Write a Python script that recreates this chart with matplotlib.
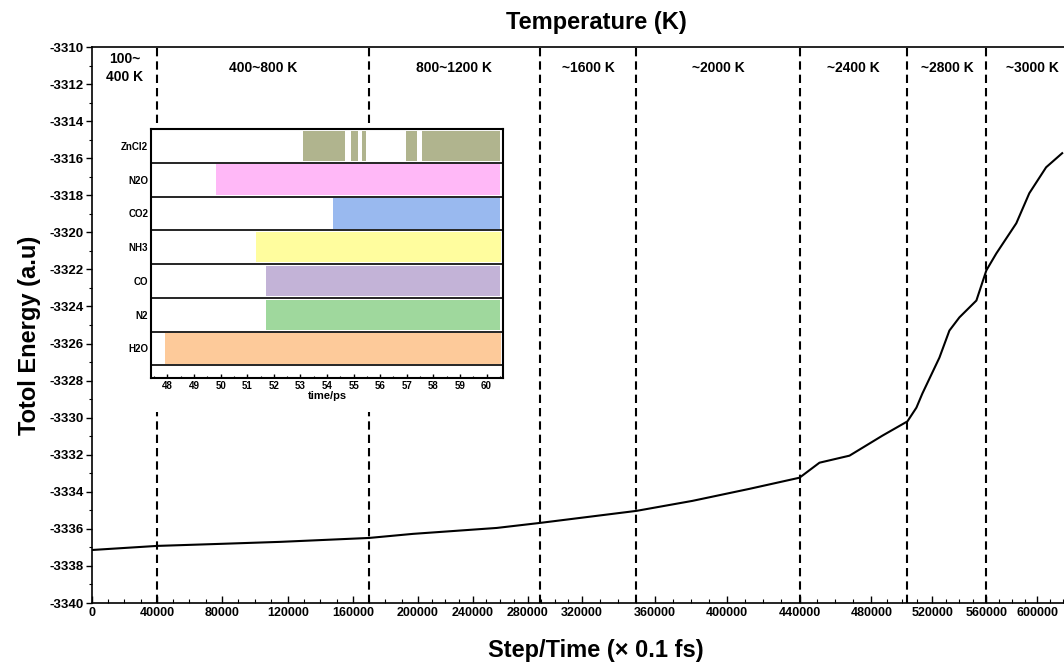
import numpy as np
import matplotlib
matplotlib.use("Agg")
import matplotlib.pyplot as plt
from matplotlib.patches import Rectangle
from matplotlib.ticker import FixedLocator, MultipleLocator

plt.rcParams['font.family'] = ['Liberation Sans', 'DejaVu Sans']
plt.rcParams['font.weight'] = 'bold'
plt.rcParams['axes.unicode_minus'] = False

# total energy along the trajectory (step, a.u.)
steps = [0, 40000, 78800, 115700, 170000, 197000, 257500, 289000, 350000,
         381000, 412600, 440000, 451100, 467800, 487200, 503600, 509500,
         513400, 525200, 532600, 540000, 552600, 560000, 567800, 583500,
         593700, 606900, 619500]
energy = [-3337.14, -3336.92, -3336.81, -3336.70, -3336.49, -3336.27,
          -3335.95, -3335.68, -3335.03, -3334.49, -3333.84, -3333.24,
          -3332.43, -3332.05, -3330.97, -3330.20, -3329.46, -3328.70,
          -3326.76, -3325.30, -3324.59, -3323.68, -3322.05, -3321.14,
          -3319.51, -3317.89, -3316.49, -3315.73]

# temperature stages
stage_bounds = [0, 40000, 170000, 289000, 350000, 440000, 503600, 560000, 632000]
stage_labels = ["100~\n400 K", "400~800 K", "800~1200 K", "~1600 K",
                "~2000 K", "~2400 K", "~2800 K", "~3000 K"]

# the original x axis is not evenly spaced: tick value -> relative position
tick_steps = list(range(0, 640001, 40000))
tick_pos = [0, 65, 130, 196, 261, 326, 381, 436, 490, 563, 635, 708, 780,
            841, 895, 946, 997]

# species appearance in the inset (time/ps)
species = ["ZnCl2", "N2O", "CO2", "NH3", "CO", "N2", "H2O"]
segments = [
    [(53.11, 54.68), (54.91, 55.17), (55.31, 55.46), (56.98, 57.40), (57.59, 60.50)],
    [(49.82, 60.50)],
    [(54.24, 60.50)],
    [(51.34, 60.54)],
    [(51.71, 60.50)],
    [(51.71, 60.50)],
    [(47.89, 60.53)],
]
colors = ['#b0b48e', '#ffb8f7', '#99b9ef', '#fffd9e', '#c3b3d7', '#9fd89d', '#fdca9a']


def fwd(s):
    return np.interp(s, tick_steps, tick_pos)


def inv(p):
    return np.interp(p, tick_pos, tick_steps)


W, H = 1064, 663
fig = plt.figure(figsize=(W / 100, H / 100), dpi=100)
ax = fig.add_axes([92 / W, 60 / H, (1066 - 92) / W, 556 / H])
ax.set_xscale('function', functions=(fwd, inv))

ax.plot(steps, energy, color='black', lw=1.5, zorder=3)
for b in stage_bounds[1:-1]:
    ax.axvline(b, color='black', lw=1.5, linestyle=(0, (4, 2.4)), zorder=2)

ax.set_xlim(0, 622500)
ax.set_ylim(-3340, -3310)

ax.xaxis.set_major_locator(FixedLocator(tick_steps[:-1]))
ax.xaxis.set_minor_locator(MultipleLocator(10000))
ax.set_xticklabels([str(t) for t in tick_steps[:-1]])
ax.yaxis.set_major_locator(MultipleLocator(2))
ax.yaxis.set_minor_locator(MultipleLocator(1))
ax.tick_params(axis='x', which='major', direction='in', length=5, width=1,
               labelsize=9, pad=3)
ax.tick_params(axis='x', which='minor', direction='in', length=3, width=0.8)
ax.tick_params(axis='y', which='major', direction='out', length=4, width=1,
               labelsize=9.5, pad=2)
ax.tick_params(axis='y', which='minor', direction='out', length=2, width=0.8)
for sp in ax.spines.values():
    sp.set_linewidth(1.2)

# stage labels centred between dashed lines
for i, lab in enumerate(stage_labels):
    mid = inv((fwd(stage_bounds[i]) + fwd(stage_bounds[i + 1])) / 2)
    ax.text(mid, 0.962, lab, transform=ax.get_xaxis_transform(),
            ha='center', va='center', fontsize=10, fontweight='bold',
            linespacing=1.3)

fig.text(596 / W, 1 - 23 / H, "Temperature (K)", ha='center', va='center',
         fontsize=17, fontweight='bold')
fig.text(596 / W, 1 - 650 / H, "Step/Time (\u00d7 0.1 fs)", ha='center',
         va='center', fontsize=17, fontweight='bold')
fig.text(30 / W, 1 - 335 / H, "Totol Energy (a.u)", ha='center', va='center',
         rotation=90, fontsize=17, fontweight='bold')

# white block hiding the dashed lines behind the inset
fig.patches.append(Rectangle((146 / W, 1 - 412 / H), (512 - 146) / W, (412 - 124) / H,
                             transform=fig.transFigure, facecolor='white',
                             edgecolor='none', zorder=2))

axi = fig.add_axes([151 / W, 1 - 378 / H, (503 - 151) / W, (378 - 129) / H], zorder=5)
n = len(species)
for i, (name, segs, c) in enumerate(zip(species, segments, colors)):
    row = n - 1 - i
    for a, b in segs:
        axi.barh(row + 0.5, b - a, left=a, height=0.9, color=c,
                 edgecolor='none')
for k in range(n):
    axi.axhline(k, color='black', lw=1.2)
axi.set_xlim(47.38, 60.62)
axi.set_ylim(-0.375, n)
axi.set_yticks([n - 1 - i + 0.5 for i in range(n)])
axi.set_yticklabels(species, fontsize=7, fontweight='bold')
axi.tick_params(axis='y', length=0, pad=2)
axi.xaxis.set_major_locator(MultipleLocator(1))
axi.xaxis.set_minor_locator(MultipleLocator(0.5))
axi.tick_params(axis='x', which='major', direction='in', length=3, width=1,
                labelsize=7, pad=2)
axi.tick_params(axis='x', which='minor', direction='in', length=1.5, width=0.8)
axi.set_xlabel("time/ps", fontsize=8, fontweight='bold', labelpad=0)
for sp in axi.spines.values():
    sp.set_linewidth(1.5)

fig.savefig("out.png", dpi=100)
